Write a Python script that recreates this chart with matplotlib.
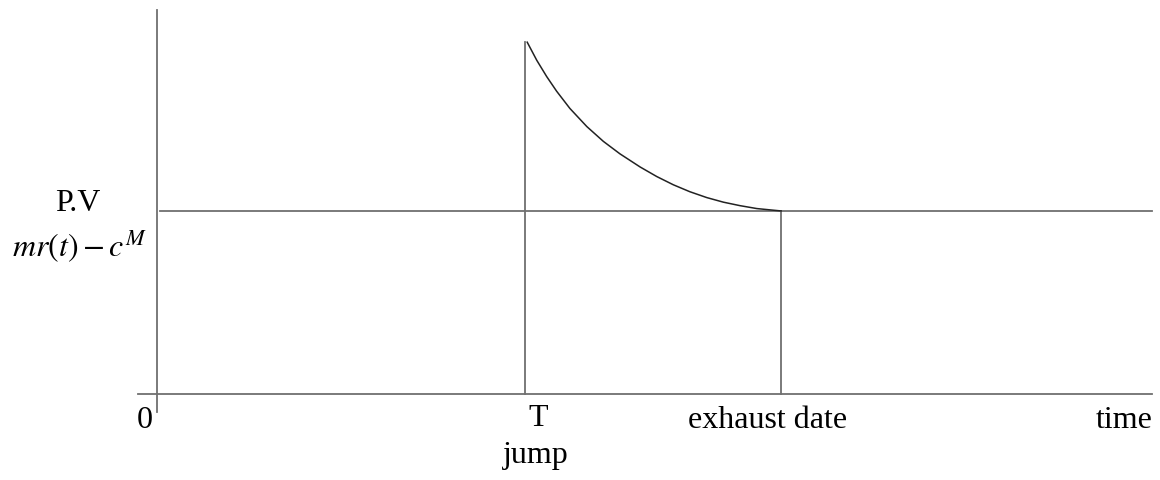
import matplotlib.pyplot as plt

plt.rcParams['font.family'] = ['Liberation Serif', 'DejaVu Serif']
plt.rcParams['mathtext.fontset'] = 'stix'

# time axis: 0 = origin, 1 = jump date T
t_jump = 1.0
t_exhaust = 1.696
t_end = 2.704
pv_level = 1.0  # mr(t) - c^M

# present value after the jump
curve_t = [1.006, 1.032, 1.059, 1.086, 1.122, 1.168, 1.213, 1.258, 1.313,
           1.358, 1.403, 1.448, 1.494, 1.539, 1.584, 1.630, 1.675, 1.696]
curve_v = [1.922, 1.823, 1.734, 1.654, 1.560, 1.461, 1.380, 1.312, 1.240,
           1.188, 1.143, 1.105, 1.073, 1.048, 1.029, 1.013, 1.004, 1.0]

fig = plt.figure(figsize=(11.6, 4.81), dpi=100)
ax = fig.add_axes([0, 0, 1, 1])
ax.set_xlim(-0.4266, 2.7255)
ax.set_ylim(-0.470, 2.158)
ax.axis('off')

grey = '#707070'
lw = 1.3
# axes
ax.plot([0, 0], [-0.098, 2.098], color=grey, lw=lw)
ax.plot([-0.052, t_end], [0, 0], color=grey, lw=lw)
# P.V level
ax.plot([0.008, t_end], [pv_level, pv_level], color=grey, lw=lw)
# jump and exhaust date
ax.plot([t_jump, t_jump], [0, curve_v[0]], color=grey, lw=lw)
ax.plot([t_exhaust, t_exhaust], [0, pv_level], color=grey, lw=lw)
# decay curve
ax.plot(curve_t, curve_v, color='#222222', lw=1.1)

fs = 23
ax.text(-0.033, -0.142, '0', fontsize=fs, ha='center', va='center')
ax.text(1.035, -0.130, 'T', fontsize=fs, ha='center', va='center')
ax.text(1.030, -0.328, 'jump', fontsize=fs, ha='center', va='center')
ax.text(1.660, -0.142, 'exhaust date', fontsize=fs, ha='center', va='center')
ax.text(2.628, -0.142, 'time', fontsize=fs, ha='center', va='center')
ax.text(-0.215, 1.044, 'P.V', fontsize=fs, ha='center', va='center')
ax.text(-0.212, 0.809, r'$mr(t)-c^M$', fontsize=fs, ha='center', va='center')

fig.savefig('out.png', dpi=100)
